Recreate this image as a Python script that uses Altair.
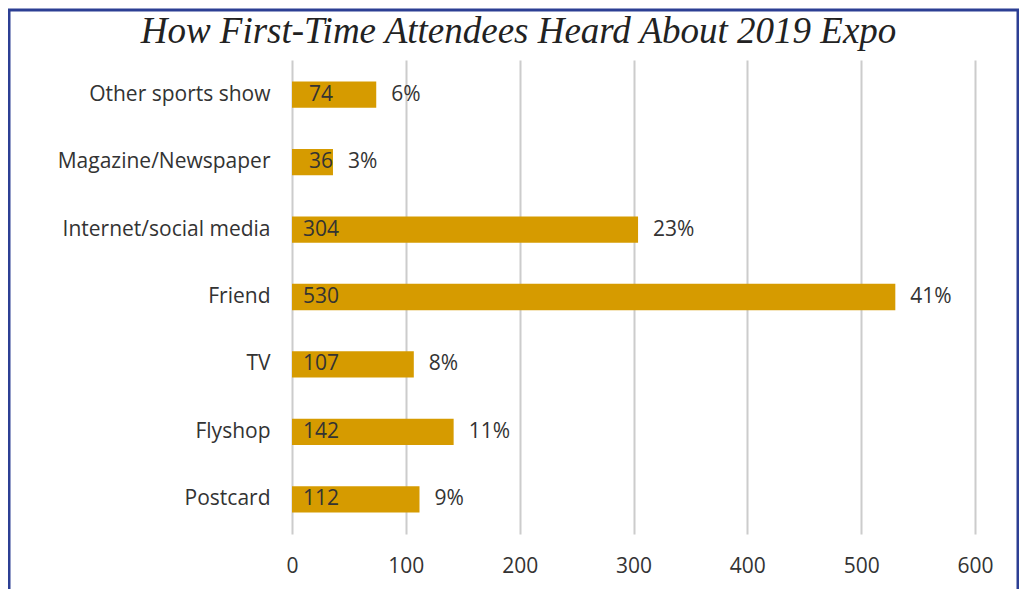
import altair as alt
import pandas as pd

categories = ["Other sports show", "Magazine/Newspaper", "Internet/social media",
              "Friend", "TV", "Flyshop", "Postcard"]
counts = [74, 36, 304, 530, 107, 142, 112]
percents = ["6%", "3%", "23%", "41%", "8%", "11%", "9%"]

df = pd.DataFrame({"source": categories, "count": counts, "pct": percents})

FONT = "Open Sans"
FS = 21
BAR = "#D69B00"
TXT = "#333333"

y_enc = alt.Y("source:N", sort=categories, title=None,
              scale=alt.Scale(paddingInner=0.61, paddingOuter=0.32),
              axis=alt.Axis(domain=False, ticks=False, labelFontSize=FS, labelFont=FONT,
                            labelColor=TXT, labelPadding=22, grid=False, labelLimit=400))
x_enc = alt.X("count:Q", title=None, scale=alt.Scale(domain=[0, 600], nice=False),
              axis=alt.Axis(values=[0, 100, 200, 300, 400, 500, 600], domain=False,
                            ticks=False, grid=True, gridColor="#CCCCCC", gridWidth=2,
                            labelFontSize=FS, labelFont=FONT, labelColor=TXT,
                            labelPadding=21, labelFlush=False))

base = alt.Chart(df)

bars = base.mark_bar(color=BAR).encode(y=y_enc, x=x_enc)
inner = base.mark_text(align="center", baseline="middle", dx=29, fontSize=FS,
                       font=FONT, color=TXT).encode(
    y=alt.Y("source:N", sort=categories), x=alt.datum(0), text="count:Q")
outer = base.mark_text(align="left", baseline="middle", dx=15, fontSize=FS,
                       font=FONT, color=TXT).encode(
    y=alt.Y("source:N", sort=categories), x="count:Q", text="pct:N")

border = alt.Chart(pd.DataFrame({"a": [0]})).mark_rect(
    fill=None, stroke="#2C3F94", strokeWidth=3, clip=False).encode(
    x=alt.value(-283), x2=alt.value(726), y=alt.value(-50), y2=alt.value(560))

chart = alt.layer(border, bars, inner, outer).properties(
    width=683, height=474,
    title=alt.TitleParams("How First-Time Attendees Heard About 2019 Expo",
                          font="Liberation Serif", fontStyle="italic", fontWeight="normal",
                          fontSize=37, color="#222222", anchor="middle", dx=-115,
                          offset=0, baseline="alphabetic", dy=71),
    autosize=alt.AutoSizeParams(type="none"),
    padding={"left": 284, "top": 52, "right": 44, "bottom": 55},
).configure(background="white").configure_view(stroke=None)

chart.save("out.html", embed_options={"renderer": "svg", "actions": False})
